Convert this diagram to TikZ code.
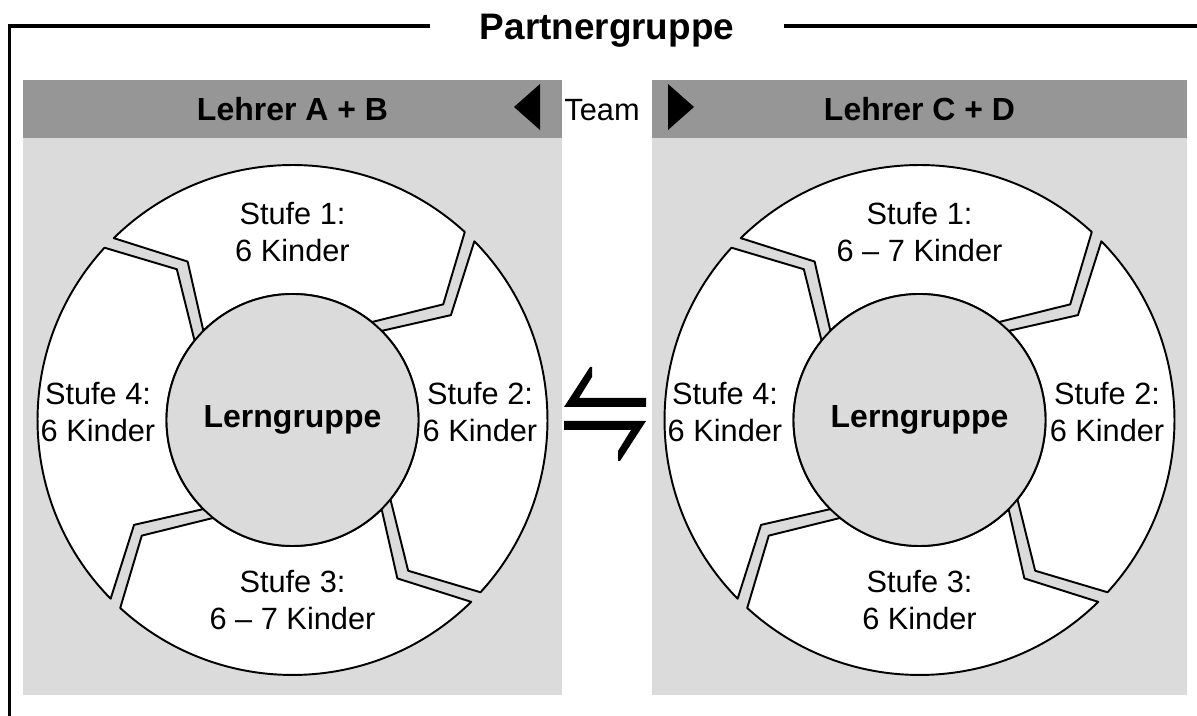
\documentclass[tikz,border=0pt]{standalone}
\usepackage{fontspec}
\setmainfont{Liberation Sans}
\usetikzlibrary{positioning,calc}

\definecolor{kopf}{gray}{0.59}
\definecolor{feld}{gray}{0.86}

\begin{document}
\begin{tikzpicture}[
  x=0.02cm, y=0.02cm,
  font=\fontsize{17.5pt}{21pt}\selectfont,
  rahmen/.style={line width=2pt},
  segm/.style={draw, fill=white, line width=1.1pt, line join=round},
  stufe/.style={align=center, inner sep=0pt},
  fett/.style={font=\fontsize{18.2pt}{21pt}\selectfont\bfseries}
]
\useasboundingbox (0,0) rectangle (1197,716);

%% ===== Rahmen Partnergruppe =====
\node[font=\fontsize{21pt}{25pt}\selectfont\bfseries, inner xsep=1cm, anchor=base] (titel) at (607,676) {Partnergruppe};
\coordinate (ecke) at (9.5,690);
\draw[rahmen] (titel.west |- ecke) -- (ecke) -- (9.5,0);
\draw[rahmen] (titel.east |- ecke) -- (1197,690);

%% ===== Felder =====
\fill[feld] (23,21) rectangle (562,578);
\fill[kopf] (23,578) rectangle (562,636);
\fill[feld] (652,21) rectangle (1187,578);
\fill[kopf] (652,578) rectangle (1187,636);

\node[fett] (lehrerab) at (292.5,607) {Lehrer A + B};
\node[fett] (lehrercd) at (919.5,607) {Lehrer C + D};

% Team mit Pfeilspitzen
\node (team) at (602,606) {Team};
\fill (540,632) -- (514,609) -- (540,586) -- cycle;
\fill (668,632) -- (694,609) -- (668,586) -- cycle;

%% ===== Kreise mit vier Stufen =====
\foreach \cx in {292.5,919.5} {
  \begin{scope}[shift={(\cx,296)}]
    \foreach \a in {136,46,-44,-134} {
      \pgfmathsetmacro\b{\a-90}
      \draw[segm] ({\a-1.5}:255) arc[start angle={\a-1.5}, end angle={\b+1.5}, radius=255]
        -- ({\b-10.5+2}:190) -- ({\b+2+3}:126)
        arc[start angle={\b+2+3}, end angle={\a+2-3}, radius=126]
        -- ({\a-10.5-2}:190) -- cycle;
    }
    \filldraw[fill=feld, line width=1.1pt] (0,0) circle[radius=126];
  \end{scope}
}

% linke Lerngruppe
\node[fett] (lernab) at (292.5,296) {Lerngruppe};
\node[stufe] (ab1) at (292.5,484) {Stufe 1:\\6 Kinder};
\node[stufe] (ab2) at (480,304) {Stufe 2:\\6 Kinder};
\node[stufe] (ab3) at (292.5,116) {Stufe 3:\\6 – 7 Kinder};
\node[stufe] (ab4) at (98,304) {Stufe 4:\\6 Kinder};

% rechte Lerngruppe
\node[fett] (lerncd) at (919.5,296) {Lerngruppe};
\node[stufe] (cd1) at (919.5,484) {Stufe 1:\\6 – 7 Kinder};
\node[stufe] (cd2) at (1107,304) {Stufe 2:\\6 Kinder};
\node[stufe] (cd3) at (919.5,116) {Stufe 3:\\6 Kinder};
\node[stufe] (cd4) at (725,304) {Stufe 4:\\6 Kinder};

%% ===== Austausch (Harpunen) =====
\begin{scope}[shift={(605,302)}]
  \fill (-41,7) -- (-15,47) -- (-13,47) -- (-13,37) -- (-26,16) -- (41,16) -- (41,7) -- cycle;
  \fill[rotate=180] (-41,7) -- (-15,47) -- (-13,47) -- (-13,37) -- (-26,16) -- (41,16) -- (41,7) -- cycle;
\end{scope}
\end{tikzpicture}
\end{document}
